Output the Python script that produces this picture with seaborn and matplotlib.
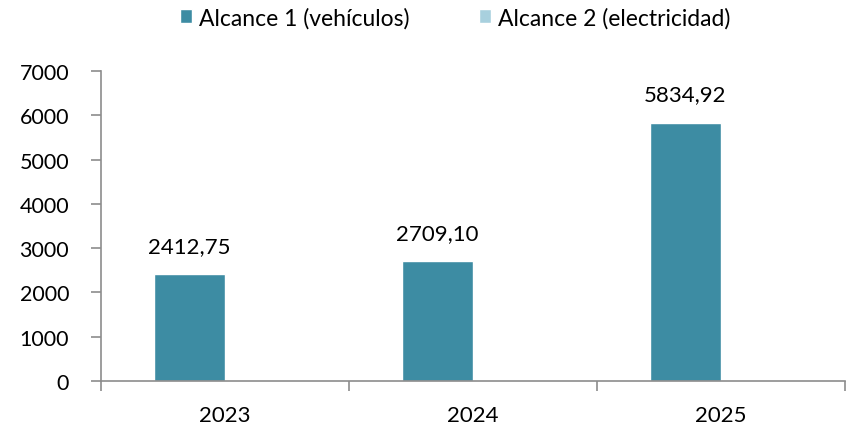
import pandas as pd
import matplotlib.pyplot as plt
import seaborn as sns

years = ["2023", "2024", "2025"]
alcance1 = [2412.75, 2709.10, 5834.92]
alcance2 = [0, 0, 0]
series = ["Alcance 1 (vehículos)", "Alcance 2 (electricidad)"]
colors = ["#3d8ca3", "#a8d0de"]

df = pd.DataFrame({
    "Año": years * 2,
    "Serie": [series[0]] * 3 + [series[1]] * 3,
    "Valor": alcance1 + alcance2,
})

sns.set_style("white")
plt.rcParams["font.family"] = ["Lato", "DejaVu Sans"]
plt.rcParams["text.color"] = "black"
plt.rcParams["xtick.color"] = "black"
plt.rcParams["ytick.color"] = "black"

fig = plt.figure(figsize=(8.54, 4.31), dpi=100)
ax = fig.add_axes([0.1183, 0.1137, 0.8712, 0.7193])
sns.barplot(data=df, x="Año", y="Valor", hue="Serie", palette=colors,
            width=0.573, dodge=True, ax=ax, saturation=1)

# data labels only for the first series
for c in ax.containers[:1]:
    ax.bar_label(c, labels=[f"{v:.2f}".replace(".", ",") for v in alcance1],
                 padding=13, fontsize=16)

ax.set_ylim(0, 7000)
ax.set_xlim(-0.5, 2.5)
ax.set_yticks(range(0, 7001, 1000))
ax.set_xlabel("")
ax.set_ylabel("")

for side in ["top", "right"]:
    ax.spines[side].set_visible(False)
for side in ["left", "bottom"]:
    ax.spines[side].set_color("#8c8c8c")
    ax.spines[side].set_linewidth(1.2)

ax.tick_params(axis="y", left=True, length=7, width=1.2, color="#8c8c8c",
               labelsize=15.5, pad=16, labelcolor="black")
ax.set_xticks([0, 1, 2])
ax.set_xticks([-0.5, 0.5, 1.5, 2.5], minor=True)
ax.tick_params(axis="x", which="major", bottom=False, labelsize=16, pad=14,
               labelcolor="black")
ax.tick_params(axis="x", which="minor", bottom=True, length=7, width=1.2,
               color="#8c8c8c")

handles, labels = ax.get_legend_handles_labels()
ax.get_legend().remove()
fig.legend(handles, labels, loc="center", bbox_to_anchor=(0.533, 0.957),
           ncol=2, frameon=False, fontsize=16.5, handlelength=0.55,
           handleheight=0.55, handletextpad=0.3, columnspacing=3.0)

fig.savefig("out.png", dpi=100)
